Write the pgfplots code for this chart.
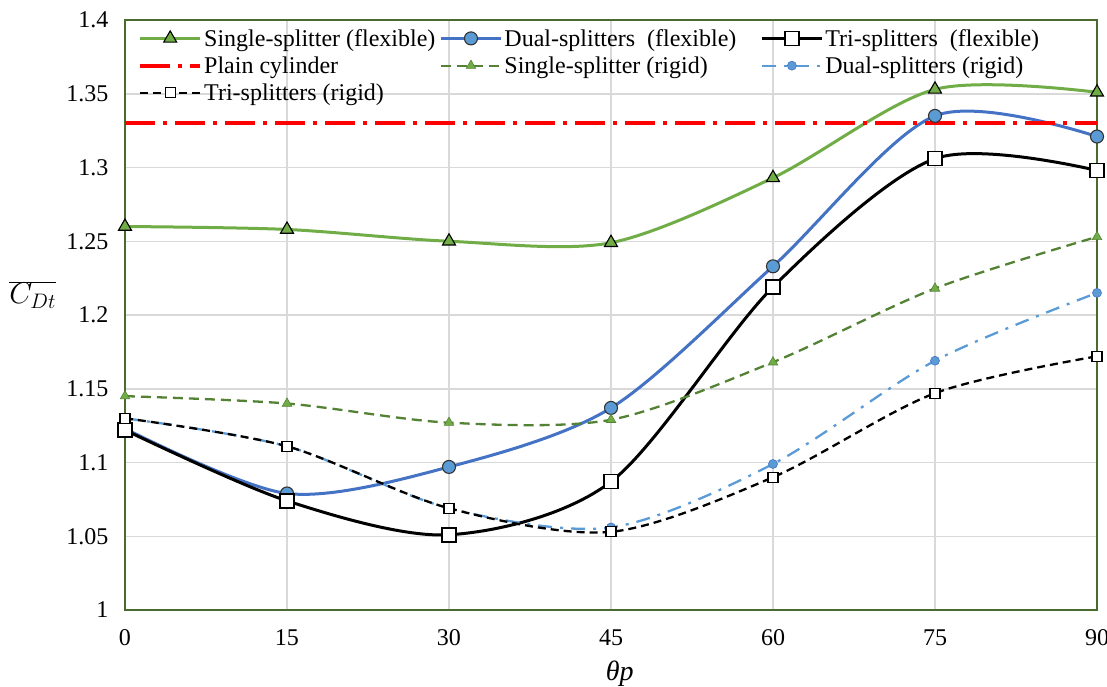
\RequirePackage{fix-cm}
\documentclass[border=0pt]{standalone}
\usepackage{pgfplots}
\pgfplotsset{compat=1.18}
\usepackage{fontspec}
\setmainfont{Liberation Serif}
\definecolor{gF}{HTML}{70AD47}
\definecolor{gR}{HTML}{548235}
\definecolor{bF}{HTML}{4472C4}
\definecolor{bM}{HTML}{5B9BD5}
\definecolor{bR}{HTML}{5B9BD5}
\definecolor{border}{HTML}{4A6A2E}
\definecolor{gridc}{HTML}{D9D9D9}
\begin{document}
\begin{tikzpicture}
\begin{axis}[
  scale only axis, width=972pt, height=590pt,
  xmin=0, xmax=90, ymin=1, ymax=1.4,
  xtick={0,15,30,45,60,75,90},
  ytick={1,1.05,1.1,1.15,1.2,1.25,1.3,1.35,1.4},
  yticklabels={1,1.05,1.1,1.15,1.2,1.25,1.3,1.35,1.4},
  xticklabels={0,15,30,45,60,75,90},
  tick style={draw=none},
  grid=major,
  major grid style={draw=gridc, line width=1.5pt},
  axis line style={draw=border, line width=2.5pt},
  tick label style={font=\fontsize{24}{28}\selectfont},
  /pgf/number format/assume math mode=true,
  xticklabel style={yshift=-16pt},
  yticklabel style={xshift=-13pt},
  xlabel={\textit{θp}},
  xlabel style={at={(axis description cs:0.509,-0.108)}, anchor=center, font=\fontsize{28}{32}\selectfont},
  ylabel={$\overline{C_{Dt}}$},
  ylabel style={rotate=-90, at={(axis description cs:-0.095,0.534)}, anchor=center, font=\fontsize{30}{36}\selectfont},
  clip=false,
  legend columns=3,
  legend cell align=left,
  legend image code/.code={\draw[mark repeat=2,mark phase=2,#1] plot coordinates {(0pt,0pt) (30pt,0pt) (60pt,0pt)};},
  legend style={at={(rel axis cs:0,1)}, anchor=north west, xshift=10pt, yshift=-5pt,
    draw=none, fill=none, font=\fontsize{24}{28}\selectfont,
    nodes={inner sep=2pt}, row sep=5pt,
    /tikz/column 2/.style={column sep=2pt},
    /tikz/column 4/.style={column sep=22pt}},
]
\addplot[gF, line width=3pt, smooth, mark=triangle*, mark size=7.5pt,
  mark options={solid, fill=gF, draw=black, line width=1.1pt}]
  coordinates {(0,1.260) (15,1.258) (30,1.250) (45,1.249) (60,1.293) (75,1.353) (90,1.351)};
\addlegendentry{Single-splitter (flexible)}
\addplot[bF, line width=3pt, smooth, mark=*, mark size=6.5pt,
  mark options={solid, fill=bM, draw=black!80, line width=1.1pt}]
  coordinates {(0,1.123) (15,1.079) (30,1.097) (45,1.137) (60,1.233) (75,1.335) (90,1.321)};
\addlegendentry{Dual-splitters\ \ (flexible)}
\addplot[black, line width=3pt, smooth, mark=square*, mark size=7pt,
  mark options={solid, fill=white, draw=black, line width=1.6pt}]
  coordinates {(0,1.122) (15,1.074) (30,1.051) (45,1.087) (60,1.219) (75,1.306) (90,1.298)};
\addlegendentry{Tri-splitters\ \ (flexible)}
\addplot[red, line width=4pt, dash pattern=on 30pt off 8pt on 4pt off 8pt]
  coordinates {(0,1.33) (90,1.33)};
\addlegendentry{Plain cylinder}
\addplot[gR, line width=2.3pt, smooth, dash pattern=on 10pt off 6pt, mark=triangle*, mark size=5.5pt,
  mark options={solid, fill=gF, draw=gR, line width=0.6pt}]
  coordinates {(0,1.145) (15,1.140) (30,1.127) (45,1.129) (60,1.168) (75,1.218) (90,1.253)};
\addlegendentry{Single-splitter (rigid)}
\addplot[bR, line width=2.3pt, smooth, dash pattern=on 14pt off 8pt on 3pt off 8pt, mark=*, mark size=4.5pt,
  mark options={solid, fill=bM, draw=bF, line width=0.6pt}]
  coordinates {(0,1.130) (15,1.111) (30,1.069) (45,1.056) (60,1.099) (75,1.169) (90,1.215)};
\addlegendentry{Dual-splitters (rigid)}
\addplot[black, line width=2.3pt, smooth, dash pattern=on 8pt off 5pt, mark=square*, mark size=5pt,
  mark options={solid, fill=white, draw=black, line width=1.3pt}]
  coordinates {(0,1.130) (15,1.111) (30,1.069) (45,1.053) (60,1.090) (75,1.147) (90,1.172)};
\addlegendentry{Tri-splitters (rigid)}
\end{axis}
\pgfresetboundingbox
\path[use as bounding box] (-125pt,-76pt) rectangle (982pt,610pt);
\end{tikzpicture}
\end{document}
